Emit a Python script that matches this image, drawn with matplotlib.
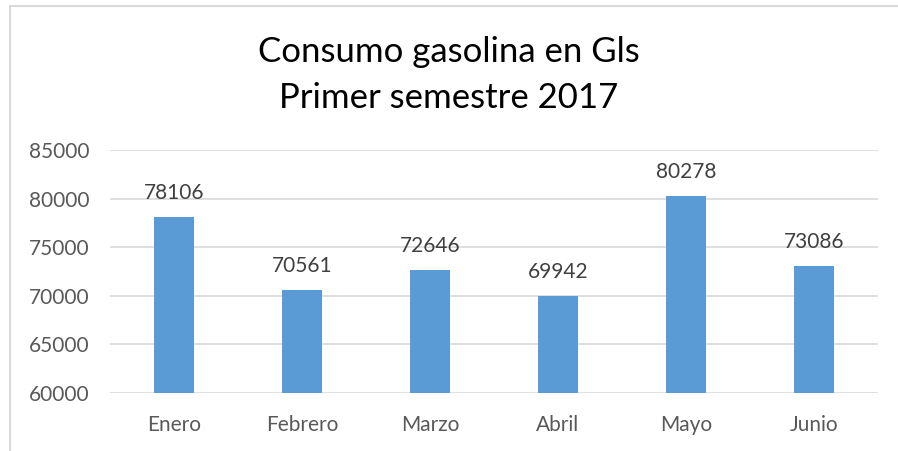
import matplotlib.pyplot as plt
from matplotlib.patches import Rectangle

months = ["Enero", "Febrero", "Marzo", "Abril", "Mayo", "Junio"]
consumo = [78106, 70561, 72646, 69942, 80278, 73086]
yticks = [60000, 65000, 70000, 75000, 80000, 85000]

plt.rcParams['font.family'] = ['Lato', 'DejaVu Sans']

fig = plt.figure(figsize=(8.98, 4.51), dpi=100)
# marco del gráfico (solo lados izquierdo y superior visibles)
fig.patches.append(Rectangle((10 / 898, -0.1), 1.2, 1.1 - 6 / 451,
                             transform=fig.transFigure, fill=False,
                             edgecolor='#d9d9d9', linewidth=1.5))

ax = fig.add_axes([110 / 898, 1 - 393 / 451, 768 / 898, 243 / 451])
x = range(len(months))
ax.bar(x, consumo, width=0.31, color='#5b9bd5', zorder=2)
for i, v in enumerate(consumo):
    ax.annotate(str(v), (i, v), xytext=(0, 10), textcoords='offset points',
                ha='center', va='bottom', fontsize=15, color='#404040')

ax.set_ylim(60000, 85000)
ax.set_xlim(-0.5, len(months) - 0.5)
ax.set_yticks(yticks)
ax.set_xticks(list(x))
ax.set_xticklabels(months)
ax.grid(axis='y', color='#d9d9d9', linewidth=1.2, zorder=0)
for s in ax.spines.values():
    s.set_visible(False)
ax.tick_params(length=0, labelsize=15, labelcolor='#595959')
ax.tick_params(axis='y', pad=15)
ax.tick_params(axis='x', pad=16)

fig.text(0.5, 1 - 75 / 451, "Consumo gasolina en Gls\nPrimer semestre 2017",
         ha='center', va='center', fontsize=25, color='black', linespacing=1.5)

fig.savefig("out.png", dpi=100)
